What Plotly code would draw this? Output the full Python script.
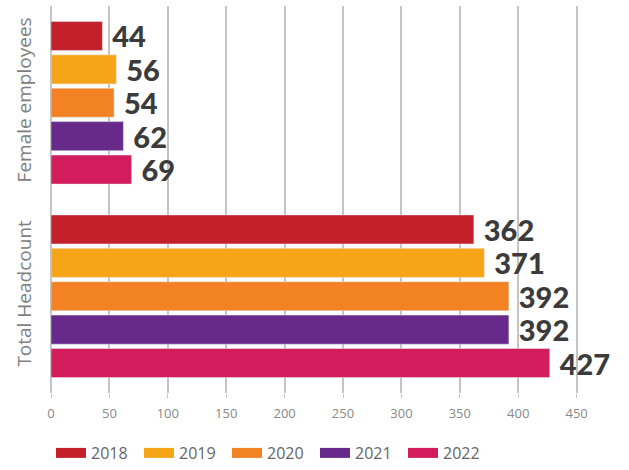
import plotly.graph_objects as go

categories = ['Female employees', 'Total Headcount']
years = ['2018', '2019', '2020', '2021', '2022']
values = {
    '2018': [44, 362],
    '2019': [56, 371],
    '2020': [54, 392],
    '2021': [62, 392],
    '2022': [69, 427],
}
colors = ['#c4202b', '#f6a519', '#f28224', '#672a8a', '#d31c5b']
x_ticks = [0, 50, 100, 150, 200, 250, 300, 350, 400, 450]

fig = go.Figure()
for yr, col in zip(years, colors):
    fig.add_trace(go.Bar(
        y=categories, x=values[yr], name=yr, orientation='h',
        marker_color=col, texttemplate=' %{x}', textposition='outside',
        textfont=dict(family='Lato', size=29, color='#3b3b3b', weight=900),
        constraintext='none', cliponaxis=False, showlegend=False,
    ))
    # legend entry drawn as a thick line so it looks like a pill
    fig.add_trace(go.Scatter(
        x=[None], y=[None], name=yr, mode='lines',
        line=dict(color=col, width=14),
    ))

fig.update_layout(
    barmode='group', bargap=0.137, bargroupgap=0.13,
    width=629, height=470,
    margin=dict(l=51, r=29, t=6, b=77),
    plot_bgcolor='white', paper_bgcolor='white',
    font=dict(family='Open Sans', color='#777'),
    legend=dict(orientation='h', x=0, xanchor='left', yref='container', y=-0.012, yanchor='bottom',
                font=dict(size=16, color='#666'), itemwidth=30, entrywidth=43),
    xaxis=dict(range=[0, 470], tickvals=x_ticks, showgrid=True, gridcolor='#c4c4c4', gridwidth=1.5,
               zeroline=True, zerolinecolor='#c4c4c4', zerolinewidth=1.5, automargin=False,
               ticks='outside', ticklen=4, tickcolor='#c4c4c4', ticklabelstandoff=4,
               tickfont=dict(size=13, color='#888')),
    yaxis=dict(autorange='reversed', tickangle=-90, ticks='outside', ticklen=11, tickcolor='rgba(0,0,0,0)',
               showline=False, automargin=False, tickfont=dict(size=19, color='#808080')),
)
fig.write_html('out.html', config={'displayModeBar': False},
               post_script="document.body.style.margin='0';")
